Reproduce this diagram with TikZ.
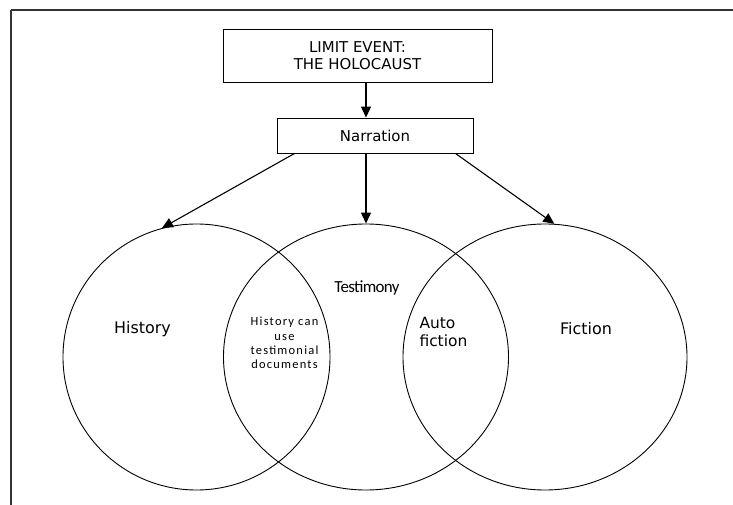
\documentclass[tikz,border=0pt]{standalone}
\usepackage{fontspec}
\setmainfont{DejaVu Sans}
\newfontfamily\calfonttight[LetterSpace=-4]{Carlito}
\newfontfamily\calfontwide[LetterSpace=10]{Carlito}
\usetikzlibrary{positioning}
\usetikzlibrary{shapes.geometric}
\usetikzlibrary{arrows.meta}
\tikzset{
        flowbox/.style={draw, rectangle, line width=0.9bp, inner sep=0pt, align=center,
          font=\fontsize{15}{17}\selectfont},
        ring/.style={draw, ellipse, line width=0.9bp, inner sep=0pt, minimum height=266bp},
        flowarrow/.style={-{Triangle[length=11bp, width=10bp]}, line width=1.1bp},
        setlabel/.style={font=\fontsize{16}{18}\selectfont},
}
\begin{document}
\begin{tikzpicture}[x=1bp, y=-1bp]
      \useasboundingbox (0,0) rectangle (733,505);
      % page frame (cut off at right and bottom)
      \draw[line width=1.8bp, black!80] (11,10) -- (733,10);
      \draw[line width=1.1bp, black!80] (11,10) -- (11,505);

      % BOXES
      \node[flowbox, minimum width=269bp, minimum height=53bp] (event) at (357.5,55.5) {LIMIT EVENT:\\THE HOLOCAUST};
      \node[flowbox, minimum width=196bp, minimum height=35bp] (narration) at (375,135.5) {Narration};

      % THREE SETS
      \node[ring, minimum width=267bp] (history) at (196.5,357) {};
      \node[ring, minimum width=285bp] (testimony) at (366,357) {};
      \node[ring, minimum width=284bp] (fiction) at (545,357) {};

      % labels
      \node[setlabel] (historylabel) at (142.5,329) {History};
      \node[setlabel] (fictionlabel) at (586,329) {Fiction};
      \node[font=\calfonttight\fontsize{17}{20}\selectfont] (testimonylabel) at (367,288) {Testimony};
      \node[font=\calfontwide\fontsize{12.5}{14.5}\selectfont, align=center] (overlaplabel) at (284.5,343) {History can\\use\\testimonial\\documents};
      \node[font=\fontsize{15.5}{18}\selectfont, align=left, anchor=west] (autolabel) at (416,332) {Auto\\fiction};

      % ARROWS
      \draw[flowarrow] (event.south -| testimony) -- (narration.north -| testimony);
      \draw[flowarrow] (narration.south -| testimony) -- (testimony.north);
      \draw[flowarrow] ([xshift=18bp]narration.south west) -- (history.105);
      \draw[flowarrow] ([xshift=-18bp]narration.south east) -- (fiction.86);
\end{tikzpicture}
\end{document}
